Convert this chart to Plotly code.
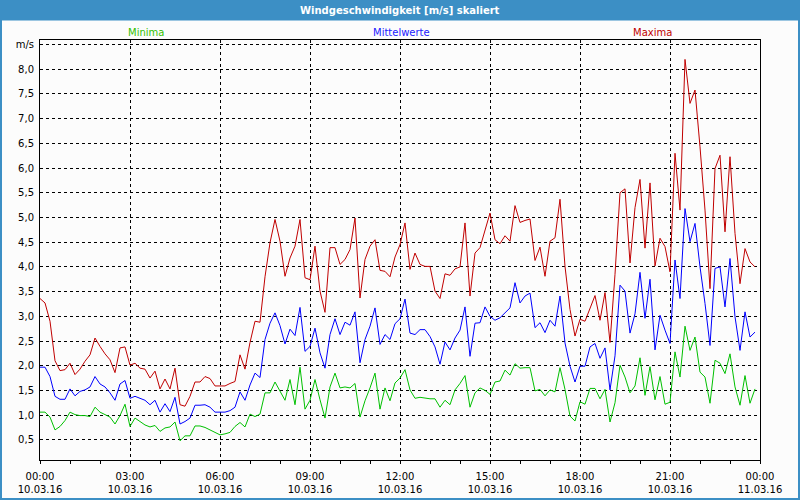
import pandas as pd
import plotly.graph_objects as go

# --- data: 10-minute values, 10.03.16 00:00 .. 23:50 ---
start_time = "2016-03-10 00:00"
n_points = 144

maxima = [3.36, 3.27, 2.90, 2.10, 1.90, 1.92, 2.05, 1.82, 1.93, 2.09,
          2.22, 2.56, 2.39, 2.24, 2.12, 1.86, 2.36, 2.38, 2.01, 2.05,
          1.95, 1.93, 1.75, 1.89, 1.53, 1.73, 1.53, 1.95, 1.21, 1.18,
          1.38, 1.67, 1.67, 1.78, 1.74, 1.59, 1.59, 1.59, 1.64, 1.68,
          2.22, 1.93, 2.47, 2.90, 2.88, 3.80, 4.49, 4.96, 4.52, 3.81,
          4.18, 4.42, 4.96, 3.78, 3.74, 4.42, 3.51, 3.08, 4.39, 4.39,
          4.05, 4.15, 4.35, 4.99, 3.37, 4.15, 4.42, 4.55, 3.93, 3.91,
          3.80, 4.20, 4.45, 4.89, 3.95, 4.28, 4.05, 4.01, 4.01, 3.51,
          3.36, 3.86, 3.83, 3.96, 4.00, 4.89, 3.41, 4.28, 4.39, 4.73,
          5.09, 4.55, 4.47, 4.63, 4.52, 5.24, 4.90, 4.94, 4.97, 4.13,
          4.40, 3.81, 4.52, 4.59, 5.37, 4.01, 3.14, 2.60, 2.94, 2.90,
          3.15, 3.42, 2.92, 3.48, 2.47, 3.85, 5.50, 5.58, 4.08, 5.20,
          5.77, 4.38, 5.70, 4.02, 4.58, 4.41, 3.90, 6.30, 5.15, 8.20,
          7.31, 7.58, 6.43, 5.15, 3.56, 5.99, 6.26, 4.71, 6.23, 4.68,
          3.66, 4.37, 4.10, 4.00]

mittelwerte = [1.97, 1.97, 1.78, 1.38, 1.32, 1.32, 1.53, 1.39, 1.48, 1.51,
               1.57, 1.78, 1.63, 1.57, 1.45, 1.30, 1.63, 1.70, 1.34, 1.38,
               1.34, 1.30, 1.21, 1.30, 1.06, 1.23, 1.07, 1.36, 0.82, 0.87,
               0.94, 1.20, 1.20, 1.21, 1.16, 1.06, 1.06, 1.06, 1.09, 1.16,
               1.47, 1.30, 1.61, 1.85, 1.76, 2.53, 2.86, 3.07, 2.81, 2.44,
               2.74, 2.61, 3.18, 2.29, 2.39, 2.76, 2.26, 1.95, 2.63, 2.95,
               2.63, 2.88, 2.82, 3.09, 2.06, 2.53, 2.80, 3.17, 2.43, 2.63,
               2.53, 2.85, 2.95, 3.35, 2.66, 2.63, 2.73, 2.73, 2.59, 2.38,
               2.03, 2.48, 2.32, 2.56, 2.72, 3.19, 2.19, 2.86, 2.87, 3.19,
               3.00, 2.92, 2.97, 3.07, 3.17, 3.68, 3.27, 3.41, 3.47, 2.77,
               2.87, 2.67, 2.92, 2.80, 3.41, 2.46, 1.99, 1.67, 1.99, 1.99,
               2.38, 2.45, 2.15, 2.36, 1.51, 2.20, 3.63, 3.51, 2.66, 3.05,
               3.89, 2.96, 3.75, 2.32, 3.02, 2.72, 2.45, 4.14, 3.36, 5.18,
               4.51, 4.88, 4.00, 3.26, 2.41, 3.97, 4.00, 3.19, 4.17, 2.99,
               2.31, 3.09, 2.58, 2.68]

minima = [1.06, 1.06, 0.96, 0.70, 0.77, 0.89, 1.06, 1.01, 0.99, 0.99,
          0.97, 1.16, 1.06, 1.01, 0.96, 0.82, 0.99, 1.22, 0.77, 0.94,
          0.87, 0.80, 0.76, 0.79, 0.67, 0.74, 0.76, 0.86, 0.48, 0.58,
          0.58, 0.78, 0.78, 0.75, 0.70, 0.65, 0.60, 0.62, 0.65, 0.77,
          0.85, 0.76, 1.02, 0.97, 1.02, 1.45, 1.45, 1.67, 1.48, 1.30,
          1.72, 1.21, 1.97, 1.12, 1.30, 1.72, 1.31, 0.94, 1.57, 1.85,
          1.55, 1.57, 1.55, 1.64, 0.96, 1.29, 1.55, 1.85, 1.12, 1.55,
          1.29, 1.65, 1.75, 1.92, 1.51, 1.34, 1.36, 1.34, 1.33, 1.33,
          1.16, 1.30, 1.21, 1.51, 1.64, 1.80, 1.16, 1.45, 1.55, 1.50,
          1.42, 1.67, 1.69, 1.91, 1.81, 2.04, 1.95, 1.96, 1.96, 1.49,
          1.52, 1.39, 1.51, 1.47, 1.96, 1.52, 0.98, 0.88, 1.27, 1.22,
          1.54, 1.54, 1.33, 1.52, 0.86, 1.25, 2.01, 1.77, 1.45, 1.59,
          2.16, 1.40, 1.98, 1.31, 1.78, 1.22, 1.26, 2.28, 1.77, 2.80,
          2.31, 2.58, 1.87, 1.77, 1.24, 2.11, 2.05, 1.84, 2.24, 1.57,
          1.20, 1.80, 1.24, 1.53]

x_tick_vals = ["2016-03-10 00:00", "2016-03-10 03:00", "2016-03-10 06:00",
               "2016-03-10 09:00", "2016-03-10 12:00", "2016-03-10 15:00",
               "2016-03-10 18:00", "2016-03-10 21:00", "2016-03-11 00:00"]
x_tick_text = ["00:00<br>10.03.16", "03:00<br>10.03.16", "06:00<br>10.03.16",
               "09:00<br>10.03.16", "12:00<br>10.03.16", "15:00<br>10.03.16",
               "18:00<br>10.03.16", "21:00<br>10.03.16", "00:00<br>11.03.16"]
y_tick_vals = [0.5, 1.0, 1.5, 2.0, 2.5, 3.0, 3.5, 4.0, 4.5, 5.0, 5.5, 6.0,
               6.5, 7.0, 7.5, 8.0, 8.5]
y_tick_text = ["0,5", "1,0", "1,5", "2,0", "2,5", "3,0", "3,5", "4,0", "4,5",
               "5,0", "5,5", "6,0", "6,5", "7,0", "7,5", "8,0", "m/s"]

title_text = "Windgeschwindigkeit [m/s] skaliert"
series_names = ["Minima", "Mittelwerte", "Maxima"]
series_colors = ["#00c000", "#0000ff", "#c00000"]

times = pd.date_range(start_time, periods=n_points, freq="10min")

FONT = "DejaVu Sans"
W, H = 800, 500
ML, MR, MT, MB = 40, 40, 40, 40
PW, PH = W - ML - MR, H - MT - MB


def px_x(p):
    return (p - ML) / PW


def px_y(p):
    return (H - MB - p) / PH


fig = go.Figure()
for name, vals, col in zip(series_names, [minima, mittelwerte, maxima], series_colors):
    fig.add_trace(go.Scatter(x=times, y=vals, mode="lines", name=name,
                             line=dict(color=col, width=1), showlegend=False))

fig.update_layout(
    width=W, height=H,
    margin=dict(l=ML, r=MR, t=MT, b=MB, pad=0),
    paper_bgcolor="#fcfcfc", plot_bgcolor="#fcfcfc",
    font=dict(family=FONT, size=10, color="#000000"),
    xaxis=dict(
        type="date", automargin=False,
        range=["2016-03-10 00:00", "2016-03-11 00:00"],
        tickmode="array", tickvals=x_tick_vals, ticktext=x_tick_text,
        ticks="outside", ticklen=3, tickcolor="#000000", ticklabelstandoff=4,
        minor=dict(ticks="outside", ticklen=3, dtick=3600000, tickcolor="#000000", showgrid=False),
        showline=True, linecolor="#000000", linewidth=1, mirror=True,
        showgrid=True, gridcolor="#000000", gridwidth=1, griddash="3px,3px",
        zeroline=False, tickfont=dict(family=FONT, size=10, color="#000000"),
        fixedrange=True,
    ),
    yaxis=dict(
        automargin=False,
        range=[0.091, 8.593],
        tickmode="array", tickvals=y_tick_vals, ticktext=y_tick_text,
        ticks="", ticklabelstandoff=3,
        showline=True, linecolor="#000000", linewidth=1, mirror=True,
        showgrid=True, gridcolor="#000000", gridwidth=1, griddash="3px,3px",
        zeroline=False, tickfont=dict(family=FONT, size=10, color="#000000"),
        fixedrange=True,
    ),
    shapes=[
        dict(type="rect", xref="paper", yref="paper",
             x0=px_x(0), x1=px_x(800), y0=px_y(20.5), y1=px_y(0),
             fillcolor="#3c8fc5", line=dict(width=0), layer="above"),
        dict(type="rect", xref="paper", yref="paper",
             x0=px_x(1), x1=px_x(799), y0=px_y(499), y1=px_y(1),
             fillcolor="rgba(0,0,0,0)", line=dict(color="#3c8fc5", width=2), layer="above"),
    ],
    annotations=[
        dict(text="<b>" + title_text + "</b>", xref="paper", yref="paper",
             x=0.5, y=px_y(10), xanchor="center", yanchor="middle", showarrow=False,
             font=dict(family=FONT, size=10, color="#ffffff")),
        dict(text=series_names[0], xref="paper", yref="paper",
             x=px_x(146), y=px_y(32), xanchor="center", yanchor="middle", showarrow=False,
             font=dict(family=FONT, size=10, color="#33c000")),
        dict(text=series_names[1], xref="paper", yref="paper",
             x=px_x(401), y=px_y(32), xanchor="center", yanchor="middle", showarrow=False,
             font=dict(family=FONT, size=10, color="#2020ff")),
        dict(text=series_names[2], xref="paper", yref="paper",
             x=px_x(652), y=px_y(32), xanchor="center", yanchor="middle", showarrow=False,
             font=dict(family=FONT, size=10, color="#c00000")),
    ],
)

fig.write_html("out.html", config={"displayModeBar": False},
               post_script="document.body.style.margin='0';document.body.style.padding='0';")
